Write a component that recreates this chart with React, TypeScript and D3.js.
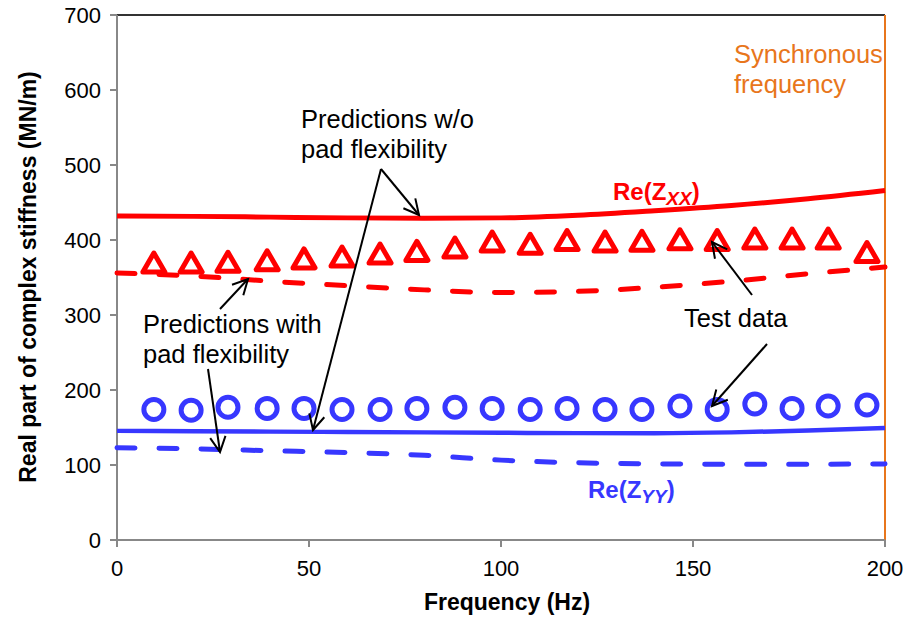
import React from "react";
import * as d3 from "d3";

// test data (measured points)
const testFreq = [9.6, 19.3, 28.9, 39.1, 48.7, 58.6, 68.5, 78.1, 88, 97.7, 107.6, 117.2, 127.1, 136.7, 146.6, 156.3, 166.1, 175.8, 185.2, 195.3];
const testXX = [370, 370, 371, 373, 375.5, 378, 382, 385.5, 390, 398, 395, 400, 398, 399, 401, 400, 402, 402, 402, 384];
const testYY = [174, 173, 177, 175.5, 175.5, 174, 174, 175.5, 177, 175.5, 174, 175.5, 174, 174, 178.7, 174, 181.3, 175.5, 178.7, 180];

// predictions
const predFreq = [0, 20, 40, 60, 80, 100, 120, 140, 160, 180, 200];
const xxNoPad = [432, 431.5, 430.5, 429.5, 429, 429.5, 433, 439, 446, 455, 466];
const xxPad = [356, 352, 345, 339, 333.5, 330, 331.5, 337, 345, 355, 364];
const yyNoPad = [145.5, 145, 144.5, 144, 143.5, 143, 142.5, 142.5, 143.5, 146, 149.5];
const yyPad = [123, 121.5, 119, 116.5, 113, 106.5, 103, 101.5, 101, 101, 101.5];

const xTicks = [0, 50, 100, 150, 200];
const yTicks = [0, 100, 200, 300, 400, 500, 600, 700];

const RED = "#FF0000";
const BLUE = "#3737FF";
const ORANGE = "#E8761C";
const FONT = "'Liberation Sans', Arial, sans-serif";

export default function App() {
  const width = 909;
  const height = 620;
  const x = d3.scaleLinear().domain([0, 200]).range([117, 885]);
  const y = d3.scaleLinear().domain([0, 700]).range([540, 15]);

  const line = (fs: number[], vs: number[]) =>
    d3
      .line<number>()
      .x((_, i) => x(fs[i]))
      .y((d) => y(d))
      .curve(d3.curveMonotoneX)(vs) || "";

  const tri = "M0,-10L11,9L-11,9Z";

  // annotation arrow with open head
  const arrow = (x1: number, y1: number, x2: number, y2: number, key: string) => {
    const a = Math.atan2(y2 - y1, x2 - x1);
    const L = 17;
    const s = (27 * Math.PI) / 180;
    const p1 = [x2 - L * Math.cos(a - s), y2 - L * Math.sin(a - s)];
    const p2 = [x2 - L * Math.cos(a + s), y2 - L * Math.sin(a + s)];
    return (
      <g key={key} stroke="#000" strokeWidth={2} fill="none">
        <line x1={x1} y1={y1} x2={x2} y2={y2} />
        <polyline points={`${p1[0]},${p1[1]} ${x2},${y2} ${p2[0]},${p2[1]}`} />
      </g>
    );
  };

  return (
    <svg
      width={width}
      height={height}
      style={{ position: "absolute", left: 0, top: 0, background: "#fff" }}
      fontFamily={FONT}
    >
      {/* frame */}
      <line x1={x(0)} x2={x(200)} y1={y(700)} y2={y(700)} stroke="#333" strokeWidth={2} />
      <line x1={x(200)} x2={x(200)} y1={y(700)} y2={y(0)} stroke={ORANGE} strokeWidth={2} />

      {/* y axis */}
      <line x1={x(0)} x2={x(0)} y1={y(700)} y2={y(0)} stroke="#888" strokeWidth={2} />
      {yTicks.map((t) => (
        <g key={"y" + t}>
          <line x1={x(0) - 7} x2={x(0)} y1={y(t)} y2={y(t)} stroke="#888" strokeWidth={2} />
          <text x={101} y={y(t)} dy="0.36em" textAnchor="end" fontSize={22} fill="#000">
            {t}
          </text>
        </g>
      ))}

      {/* x axis */}
      <line x1={x(0)} x2={x(200)} y1={y(0)} y2={y(0)} stroke="#888" strokeWidth={2} />
      {xTicks.map((t) => (
        <g key={"x" + t}>
          <line x1={x(t)} x2={x(t)} y1={y(0)} y2={y(0) + 7} stroke="#888" strokeWidth={2} />
          <text x={x(t)} y={576} textAnchor="middle" fontSize={22} fill="#000">
            {t}
          </text>
        </g>
      ))}

      <text x={507} y={610} textAnchor="middle" fontSize={23} fontWeight="bold">
        Frequency (Hz)
      </text>
      <text
        transform={`translate(36,277) rotate(-90)`}
        textAnchor="middle"
        fontSize={23}
        fontWeight="bold"
      >
        Real part of complex stiffness (MN/m)
      </text>

      {/* prediction lines */}
      <path d={line(predFreq, xxNoPad)} fill="none" stroke={RED} strokeWidth={5} />
      <path d={line(predFreq, xxPad)} fill="none" stroke={RED} strokeWidth={5} strokeDasharray="18 24" strokeLinecap="round" />
      <path d={line(predFreq, yyNoPad)} fill="none" stroke={BLUE} strokeWidth={4.5} />
      <path d={line(predFreq, yyPad)} fill="none" stroke={BLUE} strokeWidth={5} strokeDasharray="18 24" strokeLinecap="round" />

      {/* test data markers */}
      {testFreq.map((f, i) => (
        <path
          key={"t" + i}
          d={tri}
          transform={`translate(${x(f)},${y(testXX[i]) + 0.5})`}
          fill="none"
          stroke={RED}
          strokeWidth={5}
          strokeLinejoin="round"
        />
      ))}
      {testFreq.map((f, i) => (
        <circle key={"c" + i} cx={x(f)} cy={y(testYY[i])} r={10} fill="none" stroke={BLUE} strokeWidth={5} />
      ))}

      {/* series labels */}
      <text x={613} y={200} fontSize={24} fontWeight="bold" fill={RED}>
        Re(Z
        <tspan fontSize={19} fontStyle="italic" dy={5}>XX</tspan>
        <tspan dy={-5}>)</tspan>
      </text>
      <text x={588} y={498} fontSize={24} fontWeight="bold" fill={BLUE}>
        Re(Z
        <tspan fontSize={19} fontStyle="italic" dy={5}>YY</tspan>
        <tspan dy={-5}>)</tspan>
      </text>

      {/* annotations */}
      <g fontSize={25.5} fill="#000">
        <text x={301} y={128}>Predictions w/o</text>
        <text x={301} y={158}>pad flexibility</text>
        <text x={143} y={333}>Predictions with</text>
        <text x={143} y={363}>pad flexibility</text>
        <text x={684} y={327}>Test data</text>
      </g>
      <g fontSize={25.5} fill={ORANGE}>
        <text x={734} y={63}>Synchronous</text>
        <text x={734} y={93}>frequency</text>
      </g>

      {arrow(381, 169, 313, 430, "a1")}
      {arrow(381, 169, 419, 215, "a2")}
      {arrow(220, 309, 248, 279, "a3")}
      {arrow(208, 369, 220, 452, "a4")}
      {arrow(752, 295, 712, 242, "a5")}
      {arrow(767, 344, 712, 406, "a6")}
    </svg>
  );
}
